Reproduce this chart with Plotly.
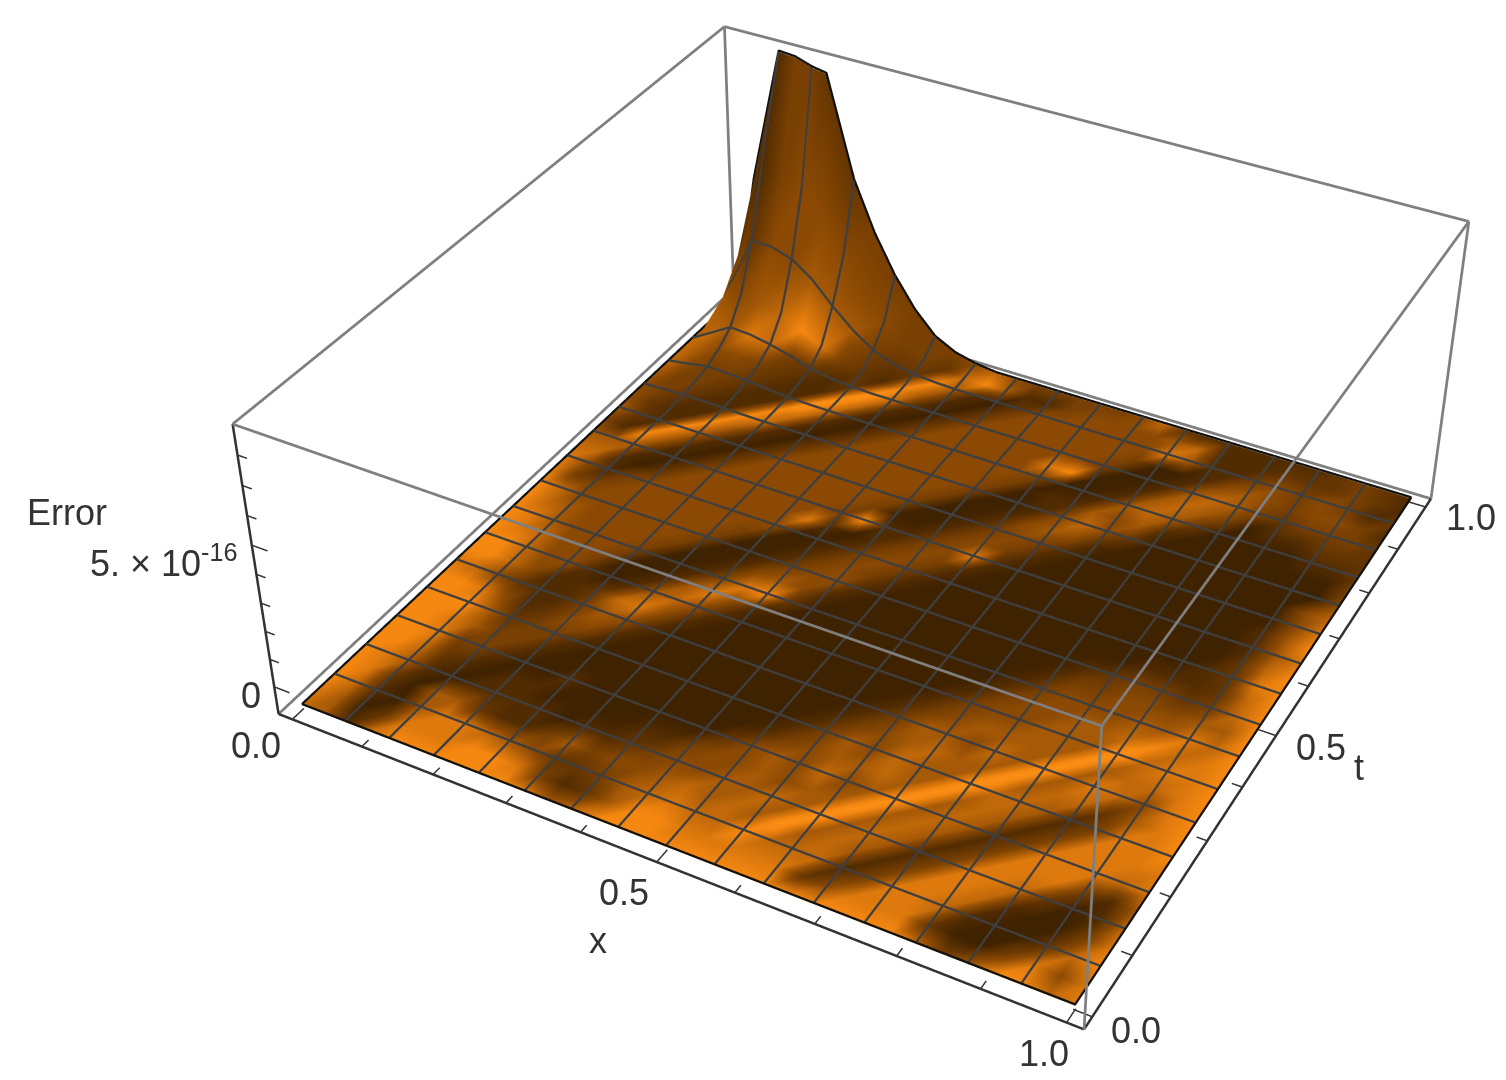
import plotly.graph_objects as go

# ---------- data ----------
X_NODES = [i / 32 for i in range(33)]
T_NODES = [j / 32 for j in range(33)]
X_TICKS = [0, .1, .2, .3, .4, .5, .6, .7, .8, .9, 1]
T_TICKS = [0, .1, .2, .3, .4, .5, .6, .7, .8, .9, 1]
Z_TICKS = [0, 1, 2, 3, 4, 5, 6, 7, 8]  # units of 1e-16
X_BOX = [-.02, 1.02]
T_BOX = [-.02, 1.02]
Z_BOX = [-1, 9]
BASE_LEVEL = -.85
MESH_STEP = 2   # one mesh line every 2 nodes (1/16)

# shade per node (0 dark .. 9 orange), rows t=0..1, columns x=0..1
SHADE_ROWS = [
 "6516 888888 756 8888888888888 635 88 67",
 "7502 777887 3125 8877777 2 4 777 2003 747",
 "8610 577 654 2235 6766 8 6 66 1 3 776 100 268",
 "8720 5521 135 344 56565 9 565 1 3 776 1 00 3 7",
 "8751 0111 1011 234 45565 9 565 1 3 776 2 01 6",
 "886 2 1 0110 0001 134 45455 9 565 1 3 777 3 1 5",
 "8873 3 1 00100000 024 54645 9 565 1 3 777 6 7",
 "8875 3 3 1 000000000 13 45565 9 565 1 3 777 7",
 "8885 2 3 3 1 000000000 13 54655 9 665 1 3 778",
 "8874 1 2 4 4 1 000000000 13 45655 9 566 2 5 78",
 "764 2 1 1 3 5 4 1 000000000 13 55465 9 576 4 78",
 "886 4 1 1 2 6 7 4 1 000000000 13 45555 9 566 78",
 "886 4 4 1 0 1 5 6 4 1 000000000 13 44555 9 677 8",
 "876 4 4 3 0 0 1 5 7 4 1 000000000 13 44556 8 678",
 "875 444 3 00 1 4 7 8 2 000000000 13 44455 7 68",
 "865 4444 3 00 1 4 5 4 1 000000000 13 34445 5 8",
 "86 444444 3 00 1 3 4 4 1 000000000 12 33236 8",
 "7 3 3 444444 3 00 1 343 1 000000000 01 112 6 8",
 "7 4 1 3 444444 4 00 1 343 1 000000000 001 2 7 8",
 "6 6 1 0 2 444444 7 10 1 343 1 000000000 002 6 8",
 "5 5 5 1 0 2 444444 3 8 1 1 347 1 000000000 0 1 5 7",
 "3 1 8 5 1 0 2 444444 3 00 1 343 1 000000000 1 5 8",
 "5 2 1 8 5 1 0 2 444444 3 00 1 343 1 000000000 4 7",
 "4 2 1 1 8 5 1 0 2 444444 3 00 1 454 1 00000000 4 6",
 "4 3 2 1 1 8 6 1 0 2 444444 3 00 1 464 2 00000000 4",
 "5 3 3 2 1 1 8 6 1 0 2 444444 3 01 1 545 1 0000000 3",
 "6 4 3 3 2 1 1 9 6 1 0 2 444444 3 00 1 565 2 0000112",
 "6 5 4 4 3 2 1 1 9 6 1 0 2 444447 8 00 1 565 3 011222",
 "6 6 5 7 6 3 2 1 2 9 6 1 0 2 444444 3 00 1 565 3 23332",
 "6 5 4 5 6 8 7 3 2 1 8 5 1 0 2 444444 3 00 1 454 3 4431",
 "5 4 2 4 4 5 5 5 3 2 2 8 5 1 0 2 444444 7 5 1 1 343 4 312",
 "3 2 1 3 4 4 4 443 32 6 8 5 1 1 344445 6 1 1 122 2 3 2 1",
 "3 1 1 3 3 2 2 333 334 6 4 33333 4 6 2 111111 2321",
]

# height above BASE_LEVEL near the peak: rows t=24/32..32/32, columns x=0..13/32
PEAK_ROWS = [
 [0, .02, .05, .05, .03, .01, 0, 0, 0, 0, 0, 0, 0, 0],
 [0, .05, .12, .11, .08, .04, .01, 0, 0, 0, 0, 0, 0, 0],
 [0, .12, .25, .23, .18, .1, .04, .01, 0, 0, 0, 0, 0, 0],
 [0, .25, .5, .47, .38, .25, .12, .04, .01, 0, 0, 0, 0, 0],
 [0, .45, .9, .85, .7, .5, .25, .1, .03, 0, 0, 0, 0, 0],
 [0, .9, 1.8, 1.7, 1.5, 1.1, .7, .35, .15, .05, .02, 0, 0, 0],
 [0, 1.7, 3.4, 3.4, 3.15, 2.6, 1.8, 1.1, .55, .25, .1, .03, 0, 0],
 [0, 2.9, 5.8, 5.8, 5.5, 4.6, 3.3, 2.1, 1.2, .6, .27, .1, .03, 0],
 [0, 4.8, 9.75, 9.7, 9.5, 9.4, 5.8, 4.0, 2.6, 1.5, .7, .3, .1, 0],
]
PEAK_FIRST_ROW = 24
# where the flat top of the peak really sits along the t=1 edge (node index -> x)
TOP_EDGE_X = {2: .075, 3: .1, 4: .125, 5: .147}

BOX_GRAY = "#7f7f7f"
AXIS_DARK = "#333333"
MESH = "#3f3f3f"
TEXT = "#333333"

# ---------- page geometry (window pixels) ----------
SIDE = 2461
CENTER_PX = (881, 464)
LEFT = CENTER_PX[0] - SIDE / 2
TOP = CENTER_PX[1] - SIDE / 2

N = 33
shade = [[int(c) for c in r.replace(" ", "")[:N].ljust(N, r[-1])] for r in SHADE_ROWS]
z = [[BASE_LEVEL for _ in X_NODES] for _ in T_NODES]
for dj, row in enumerate(PEAK_ROWS):
    for i, v in enumerate(row):
        z[PEAK_FIRST_ROW + dj][i] = BASE_LEVEL + v
vx = [list(X_NODES) for _ in T_NODES]
for i, v in TOP_EDGE_X.items():
    vx[N - 1][i] = v

fig = go.Figure()
# triangulated surface: each cell is split along the direction of the bands
px_, py_, pz_, pc_, ti, tj, tk = [], [], [], [], [], [], []
for j in range(N):
    for i in range(N):
        px_.append(vx[j][i]); py_.append(T_NODES[j]); pz_.append(z[j][i]); pc_.append(shade[j][i])
for j in range(N - 1):
    for i in range(N - 1):
        a, b, c, d = j * N + i, j * N + i + 1, (j + 1) * N + i, (j + 1) * N + i + 1
        ti += [a, a]; tj += [b, d]; tk += [d, c]
fig.add_trace(go.Mesh3d(
    x=px_, y=py_, z=pz_, i=ti, j=tj, k=tk, intensity=pc_, intensitymode="vertex",
    cmin=0, cmax=9,
    colorscale=[[0, "#3f2200"], [.45, "#8c4a03"], [.88, "#f58710"], [1, "#fa9018"]],
    showscale=False, hoverinfo="skip", flatshading=False,
    lighting=dict(ambient=1, diffuse=0, specular=0, fresnel=0, roughness=1),
))

def line3d(xs, ys, zs, color, width):
    fig.add_trace(go.Scatter3d(x=xs, y=ys, z=zs, mode="lines", hoverinfo="skip",
                               showlegend=False, line=dict(color=color, width=width)))

def edges3d(edges, color, width):
    xs, ys, zs = [], [], []
    for (a, b) in edges:
        xs += [a[0], b[0], None]; ys += [a[1], b[1], None]; zs += [a[2], b[2], None]
    line3d(xs, ys, zs, color, width)

LIFT = .05
# mesh lines, following the surface
mx, my, mz = [], [], []
for i in range(MESH_STEP, N - 1, MESH_STEP):
    mx += [vx[j][i] for j in range(N)] + [None]
    my += T_NODES + [None]
    mz += [r[i] + LIFT for r in z] + [None]
for j in range(MESH_STEP, N - 1, MESH_STEP):
    mx += vx[j] + [None]
    my += [T_NODES[j]] * N + [None]
    mz += [v + LIFT for v in z[j]] + [None]
line3d(mx, my, mz, MESH, 4.6)

# surface boundary
bx = vx[0] + [r[-1] for r in vx] + vx[-1][::-1] + [r[0] for r in vx][::-1]
by = [T_NODES[0]] * N + T_NODES + [T_NODES[-1]] * N + T_NODES[::-1]
bz = z[0] + [r[-1] for r in z] + z[-1][::-1] + [r[0] for r in z][::-1]
line3d(bx, by, [v + LIFT for v in bz], "#111111", 4.5)

# box
x0, x1 = X_BOX
t0, t1 = T_BOX
z0, z1 = Z_BOX
edges3d([((x0, t1, z0), (x0, t1, z1)), ((x1, t1, z0), (x1, t1, z1)), ((x1, t0, z0), (x1, t0, z1)),
         ((x0, t0, z1), (x1, t0, z1)), ((x1, t0, z1), (x1, t1, z1)), ((x1, t1, z1), (x0, t1, z1)),
         ((x0, t1, z1), (x0, t0, z1)), ((x0, t0, z0), (x0, t1, z0)), ((x1, t1, z0), (x0, t1, z0))],
        BOX_GRAY, 5.5)
# axes
edges3d([((x0, t0, z1), (x0, t0, z0)), ((x0, t0, z0), (x1, t0, z0)), ((x1, t0, z0), (x1, t1, z0))],
        AXIS_DARK, 5)

# ticks
ticks = []
for v in X_TICKS:
    ticks.append(((v, t0, z0), (v, t0 + (.022 if v in (0, .5, 1) else .013), z0)))
for v in T_TICKS:
    ticks.append(((x1, v, z0), (x1 - (.022 if v in (0, .5, 1) else .013), v, z0)))
for v in Z_TICKS:
    ticks.append(((x0, t0, v), (x0 + (.022 if v in (0, 5) else .013), t0, v)))
edges3d(ticks, AXIS_DARK, 3)

def label(text, px, py, size=36):
    fig.add_annotation(text=text, xref="paper", yref="paper",
                       x=(px - LEFT) / SIDE, y=1 - (py - TOP) / SIDE,
                       xanchor="center", yanchor="middle", showarrow=False,
                       font=dict(family="Liberation Sans, Arial, sans-serif", size=size, color=TEXT))

label("0.0", 255, 745)
label("0.5", 623, 892)
label("x", 597, 940)
label("1.0", 1043, 1053)
label("0.0", 1135, 1030)
label("0.5", 1320, 747)
label("t", 1358, 767)
label("1.0", 1470, 517)
label("0", 250, 695)
label("5. × 10<sup>-16</sup>", 163, 560)
label("Error", 66, 512)

# the scene range stays a little wider than the box so that box lines are not clipped
MARGIN = 1.01
def wider(r):
    mid, half = (r[0] + r[1]) / 2, (r[1] - r[0]) / 2
    return [mid - half * MARGIN, mid + half * MARGIN]

hidden = dict(visible=False, showgrid=False, zeroline=False, showticklabels=False, showspikes=False)
fig.update_layout(
    width=SIDE, height=SIDE, autosize=False, showlegend=False,
    margin=dict(l=0, r=0, t=0, b=0), paper_bgcolor="white",
    scene=dict(
        domain=dict(x=[0, 1], y=[0, 1]),
        xaxis=dict(range=wider(X_BOX), **hidden),
        yaxis=dict(range=wider(T_BOX), **hidden),
        zaxis=dict(range=wider(Z_BOX), **hidden),
        aspectmode="manual", aspectratio=dict(x=MARGIN, y=MARGIN, z=.4 * MARGIN),
        camera=dict(eye=dict(x=1.3, y=-2.4, z=2), center=dict(x=0, y=0, z=0), up=dict(x=0, y=0, z=1),
                    projection=dict(type="perspective")),
        bgcolor="white",
    ),
)

post = f"""
document.documentElement.style.overflow='hidden';
document.body.style.margin='0';
document.body.style.overflow='hidden';
var g=document.getElementById('{{plot_id}}');
g.style.position='fixed';g.style.left='{LEFT}px';g.style.top='{TOP}px';
"""
fig.write_html("out.html", post_script=post, config=dict(displayModeBar=False))
